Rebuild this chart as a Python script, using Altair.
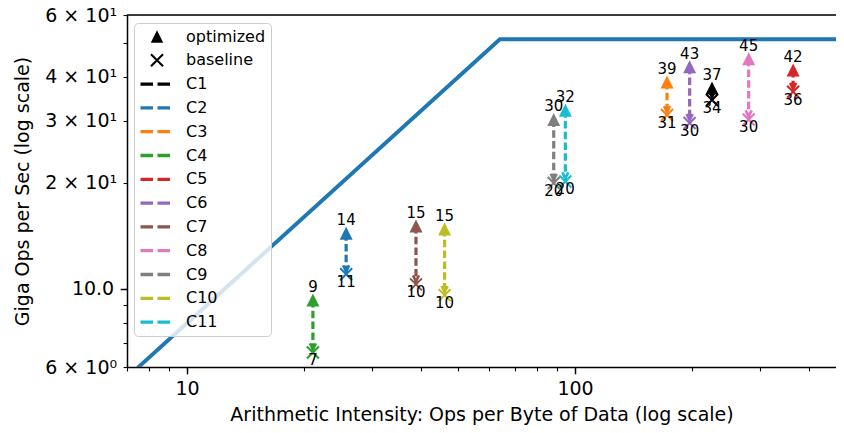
import altair as alt
import pandas as pd

# ---------------- data ----------------
series = ["C1", "C2", "C3", "C4", "C5", "C6", "C7", "C8", "C9", "C10", "C11"]
series_colors = ["#000000", "#1f77b4", "#ff7f0e", "#2ca02c", "#d62728", "#9467bd",
                 "#8c564b", "#e377c2", "#7f7f7f", "#bcbd22", "#17becf"]
intensity = [225.4, 25.7, 172.6, 21.1, 364.8, 197.4, 38.9, 280.2, 88.1, 46.1, 94.4]
optimized = [37.2, 14.4, 38.7, 9.3, 41.9, 42.8, 15.1, 45.1, 30.3, 14.8, 32.2]
baseline = [34.4, 11.0, 31.2, 6.6, 36.3, 29.6, 10.3, 30.3, 20.0, 9.6, 20.2]

roof_x = [7.0, 64.0, 470.5]
roof_y = [5.6, 51.2, 51.2]

marker_entries = ["optimized", "baseline"]

x_major = [10, 100]
x_major_labels = ["10", "100"]
x_minor = [7, 8, 9, 20, 30, 40, 50, 60, 70, 80, 90, 200, 300, 400]
y_major = [10]
y_minor = [6, 7, 8, 9, 20, 30, 40, 50, 60]
y_label_values = [6, 10, 20, 30, 40, 60]
y_label_texts = ["6 × 10⁰", "10.0", "2 × 10¹", "3 × 10¹", "4 × 10¹", "6 × 10¹"]

x_domain = [7.0, 470.5]
y_domain = [6.0, 60.0]

# ---------------- tables ----------------
df = pd.DataFrame({"series": series, "ai": intensity, "opt": optimized, "base": baseline})
roof = pd.DataFrame({"ai": roof_x, "perf": roof_y})
frame = pd.DataFrame({"k": [0]})

FONT = "DejaVu Sans"
W, H = 709, 352
AX_FS = 19

TRI = "M0,-1L-1,1L1,1Z"
XSHAPE = ("M-1.12,-0.88L0.88,1.12L1.12,0.88L-0.88,-1.12Z"
          "M1.12,-0.88L0.88,-1.12L-1.12,0.88L-0.88,1.12Z")
VHEAD = "M-0.5,-1L0,0L0.5,-1"

# legend symbols are drawn at the (large) stroke size, so their paths are scaled down
LEG_SIZE = 1089
TRI_LEG = "M0,-0.38L-0.38,0.38L0.38,0.38Z"
XSHAPE_LEG = ("M-0.41,-0.32L0.32,0.41L0.41,0.32L-0.32,-0.41Z"
              "M0.41,-0.32L0.32,-0.41L-0.41,0.32L-0.32,0.41Z")

legend_domain = marker_entries + series
legend_range = ["#000000", "#000000"] + series_colors
color_scale = alt.Scale(domain=legend_domain, range=legend_range)


def label_expr(values, texts):
    parts = [f"datum.value == {v} ? '{t}'" for v, t in zip(values, texts)]
    return " : ".join(parts) + " : ''"


def in_test(values):
    return "indexof([" + ",".join(str(v) for v in values) + "], datum.value) >= 0"


x_axis = alt.Axis(
    values=sorted(x_major + x_minor),
    labelExpr=label_expr(x_major, x_major_labels),
    title="Arithmetic Intensity: Ops per Byte of Data (log scale)",
    grid=False,
    tickSize={"condition": {"test": in_test(x_major), "value": 6.8}, "value": 3.9},
    tickWidth={"condition": {"test": in_test(x_major), "value": 1.5}, "value": 1.1},
    tickColor="black", domainColor="black", domainWidth=1.5,
    labelFont=FONT, labelFontSize=AX_FS, labelColor="black", labelPadding=5.5,
    labelFlush=False, labelOverlap=False,
    titleFont=FONT, titleFontSize=AX_FS, titleFontWeight="normal", titleColor="black",
    titleY=53.5, titleBaseline="alphabetic",
)

y_axis = alt.Axis(
    values=sorted(y_major + y_minor),
    labelExpr=label_expr(y_label_values, y_label_texts),
    title="Giga Ops per Sec (log scale)",
    grid=False,
    tickSize={"condition": {"test": in_test(y_major), "value": 6.8}, "value": 3.9},
    tickWidth={"condition": {"test": in_test(y_major), "value": 1.5}, "value": 1.1},
    tickColor="black", domainColor="black", domainWidth=1.5,
    labelFont=FONT, labelFontSize=AX_FS, labelColor="black", labelPadding=6.5,
    labelFlush=False, labelOverlap=False,
    titleFont=FONT, titleFontSize=AX_FS, titleFontWeight="normal", titleColor="black",
    titleX=-99, titleBaseline="alphabetic",
)


def X(field):
    return alt.X(f"{field}:Q", scale=alt.Scale(type="log", domain=x_domain), axis=x_axis)


def Y(field):
    return alt.Y(f"{field}:Q", scale=alt.Scale(type="log", domain=y_domain), axis=y_axis)


is_opt = "datum.value === 'optimized'"
is_base = "datum.value === 'baseline'"
is_marker = f"({is_opt} || {is_base})"

legend = alt.Legend(
    title=None, orient="none", legendX=7, legendY=8,
    labelFont=FONT, labelFontSize=16, labelColor="black",
    symbolSize=LEG_SIZE, symbolOffset=9.5, labelOffset=21, padding=5.5, rowPadding=7.8,
    symbolDash=[12.5, 4.5],
    symbolType=alt.ExprRef(expr=f"{is_opt} ? '{TRI_LEG}' : {is_base} ? '{XSHAPE_LEG}' : 'stroke'"),
    symbolFillColor=alt.ExprRef(expr=f"{is_marker} ? '#000000' : 'transparent'"),
    symbolStrokeWidth=alt.ExprRef(expr=f"{is_marker} ? 0 : 3.3"),
    fillColor="rgba(255,255,255,0.8)", strokeColor="#cccccc", cornerRadius=4,
)

roofline = alt.Chart(roof).mark_line(color="#1f77b4", strokeWidth=3.9, clip=True).encode(
    x=X("ai"), y=Y("perf"))

arrows = alt.Chart(df).mark_rule(strokeDash=[7.5, 3.3], strokeWidth=3.2).encode(
    x=X("ai"), y=Y("opt"), y2="base:Q",
    color=alt.Color("series:N", scale=color_scale, legend=legend))

heads = alt.Chart(df).mark_point(shape=VHEAD, size=144, filled=False, opacity=1,
                                 strokeWidth=2.6, yOffset=-3).encode(
    x=X("ai"), y=Y("base"),
    color=alt.Color("series:N", scale=color_scale, legend=None))

base_pts = alt.Chart(df).mark_point(shape=XSHAPE, size=144, filled=True, opacity=1,
                                    strokeWidth=0).encode(
    x=X("ai"), y=Y("base"),
    color=alt.Color("series:N", scale=color_scale, legend=None))

opt_pts = alt.Chart(df).mark_point(shape=TRI, size=169, filled=True, opacity=1,
                                   strokeWidth=0).encode(
    x=X("ai"), y=Y("opt"),
    color=alt.Color("series:N", scale=color_scale, legend=None))

opt_txt = alt.Chart(df).mark_text(font=FONT, fontSize=15, color="black", dy=-8,
                                  baseline="alphabetic", align="center").encode(
    x=X("ai"), y=Y("opt"), text=alt.Text("opt:Q", format=".0f"))

base_txt = alt.Chart(df).mark_text(font=FONT, fontSize=15, color="black", dy=13,
                                   baseline="alphabetic", align="center").encode(
    x=X("ai"), y=Y("base"), text=alt.Text("base:Q", format=".0f"))

top_spine = alt.Chart(frame).mark_rule(color="black", strokeWidth=1.5).encode(
    x=alt.value(0), x2=alt.value(W), y=alt.value(0))

chart = alt.layer(
    roofline, arrows, heads, base_pts, opt_pts, opt_txt, base_txt, top_spine
).properties(
    width=W, height=H,
    autosize=alt.AutoSizeParams(type="none"),
    padding={"left": 119, "top": 7, "right": 0, "bottom": 58},
).configure_view(stroke=None).configure(font=FONT)

chart.save("out.html", embed_options={"renderer": "svg", "actions": False})
